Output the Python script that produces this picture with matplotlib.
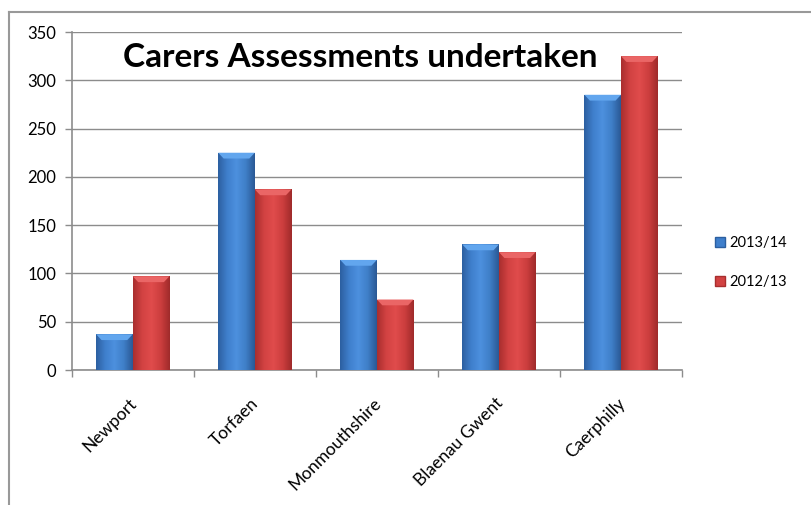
import numpy as np
import matplotlib
matplotlib.use("Agg")
import matplotlib.pyplot as plt
from matplotlib.colors import LinearSegmentedColormap
from matplotlib.patches import Patch
from matplotlib.lines import Line2D

categories = ["Newport", "Torfaen", "Monmouthshire", "Blaenau Gwent", "Caerphilly"]
series_names = ["2013/14", "2012/13"]
values_2013 = [37, 225, 114, 130, 285]
values_2012 = [97, 187, 73, 122, 325]
yticks = [0, 50, 100, 150, 200, 250, 300, 350]
title = "Carers Assessments undertaken"

plt.rcParams['font.family'] = ['Lato', 'DejaVu Sans']

fig = plt.figure(figsize=(8.11, 5.05), dpi=100)
ax = fig.add_axes([0.0884, 0.2673, 0.7526, 0.6693])

blue_cmap = LinearSegmentedColormap.from_list(
    "b", ["#2c5fa0", "#3f7fcc", "#4d90de", "#3f7fc8", "#2a5894"])
red_cmap = LinearSegmentedColormap.from_list(
    "r", ["#a82e2e", "#d24242", "#e04c4c", "#cc3e3e", "#9e2a2a"])
blue_top = "#62a6ee"
red_top = "#ea6666"

grad = np.linspace(0, 1, 256).reshape(1, -1)
x = np.arange(len(categories))
width = 0.3

ax.set_xlim(-0.5, len(categories) - 0.5)
ax.set_ylim(0, 350)

for vals, cmap, topc, off in [(values_2013, blue_cmap, blue_top, -width / 2),
                              (values_2012, red_cmap, red_top, width / 2)]:
    bars = ax.bar(x + off, vals, width, color="none", edgecolor="none", zorder=3)
    for b in bars:
        x0, w, h = b.get_x(), b.get_width(), b.get_height()
        im = ax.imshow(grad, cmap=cmap, extent=[x0, x0 + w, 0, h],
                       aspect="auto", zorder=3, interpolation="bilinear")
        im.set_clip_path(b)
        cap = 6.0
        ax.fill([x0, x0 + w, x0 + w * 0.85, x0 + w * 0.15],
                [h, h, h - cap, h - cap], color=topc, zorder=4, lw=0)

ax.set_xlim(-0.5, len(categories) - 0.5)
ax.set_ylim(0, 350)

ax.set_yticks(yticks)
ax.set_yticklabels([str(v) for v in yticks], fontsize=12)
ax.yaxis.grid(True, color="#8c8c8c", linewidth=1.0, zorder=0)
ax.set_axisbelow(True)

ax.set_xticks(x)
ax.set_xticklabels([])
ax.set_xticks(np.arange(-0.5, len(categories) + 0.5, 1), minor=True)
ax.tick_params(axis="x", which="major", length=0)
ax.tick_params(axis="x", which="minor", length=5, color="#8c8c8c", width=1, direction="out")
ax.tick_params(axis="y", length=5, color="#8c8c8c", width=1, direction="out", pad=6)

for c_i, name in enumerate(categories):
    ax.annotate(name, xy=(c_i, 0), xycoords=("data", "data"),
                xytext=(-3, -18), textcoords="offset points",
                rotation=45, ha="right", va="top", rotation_mode="anchor",
                fontsize=12.5)

for s in ["top", "right"]:
    ax.spines[s].set_visible(False)
ax.spines["left"].set_color("#8c8c8c")
ax.spines["bottom"].set_color("#8c8c8c")
ax.spines["left"].set_linewidth(1.2)
ax.spines["bottom"].set_linewidth(1.2)

ax.text(0.472, 0.925, title, transform=ax.transAxes, ha="center", va="center",
        fontsize=24, fontweight="bold", zorder=6)

handles = [Patch(facecolor="#3f7fcc", edgecolor="#2c5fa0", label=series_names[0]),
           Patch(facecolor="#d24242", edgecolor="#a82e2e", label=series_names[1])]
fig.legend(handles=handles, loc="center left", bbox_to_anchor=(0.866, 0.48),
           frameon=False, fontsize=10.5, handlelength=0.65, handleheight=0.65,
           handletextpad=0.3, labelspacing=1.75)

fig.add_artist(Line2D([9 / 811, 1.0], [1 - 12 / 505, 1 - 12 / 505],
                      transform=fig.transFigure, color="#999999", lw=1.5))
fig.add_artist(Line2D([9 / 811, 9 / 811], [0, 1 - 12 / 505],
                      transform=fig.transFigure, color="#999999", lw=1.5))

fig.savefig("out.png", dpi=100)
